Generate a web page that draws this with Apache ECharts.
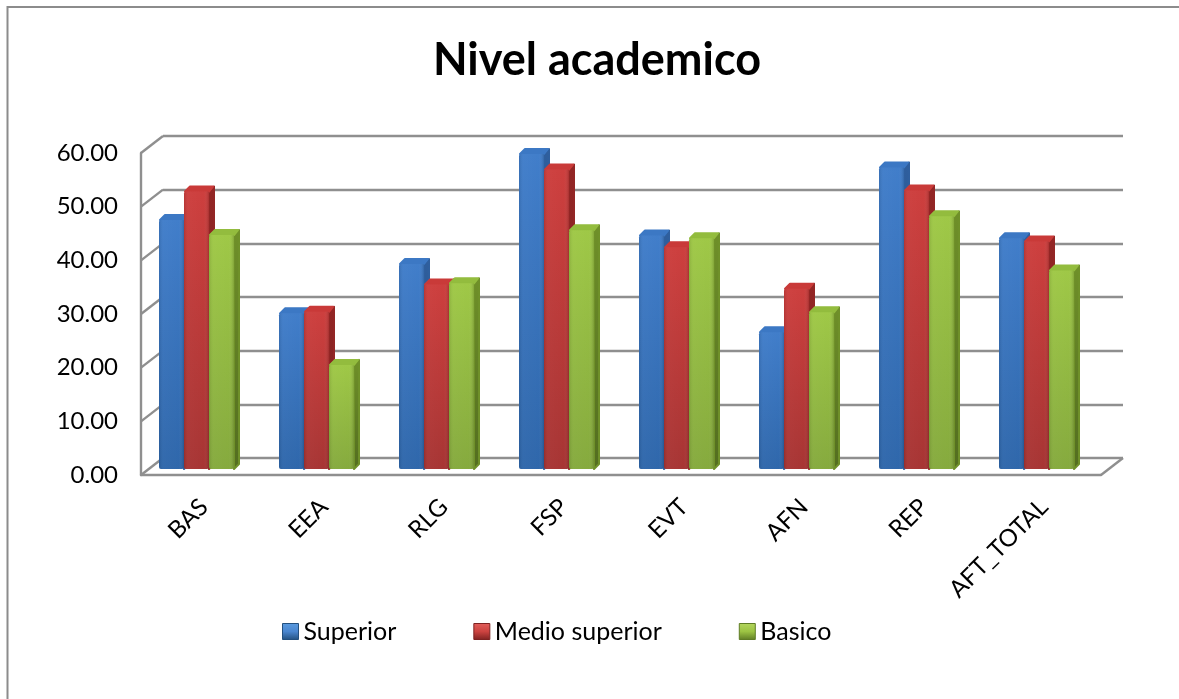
<!DOCTYPE html>
<html>
<head>
<meta charset="utf-8">
<style>html,body{margin:0;padding:0;background:#fff}#chart{width:1179px;height:699px}</style>
<script src="https://cdn.jsdelivr.net/npm/echarts@6/dist/echarts.min.js"></script>
</head>
<body>
<div id="chart"></div>
<script>
const categories = ['BAS', 'EEA', 'RLG', 'FSP', 'EVT', 'AFN', 'REP', 'AFT_TOTAL'];
const superior = [46.4, 29.0, 38.2, 58.7, 43.5, 25.5, 56.2, 43.0];
const medioSuperior = [51.7, 29.3, 34.4, 55.8, 41.3, 33.6, 51.9, 42.4];
const basico = [43.6, 19.4, 34.6, 44.5, 43.0, 29.2, 47.1, 37.0];
const wallTicks = [0, 10, 20, 30, 40, 50, 60];

const FONT = 'Lato, "Open Sans", sans-serif';
const LINE = '#8f8f8f';

// Pseudo-3D projection: the back plane sits up and to the right of the front plane.
const WALL_DX = 22, WALL_DY = -17;
const BAR_LIFT = 6, BAR_DX = 6, BAR_DY = -6;
const BAR_FRAC = 25 / 120, LEAD_FRAC = 18 / 120;
const LABEL_SHIFT = 3;

const vGrad = (a, b) => new echarts.graphic.LinearGradient(0, 0, 0, 1, [
  { offset: 0, color: a }, { offset: 1, color: b }
]);

const palettes = [
  { name: 'Superior', front: ['#3d7bc9', '#2b64a9'], top: '#3c78c4', side: ['#2f5f9e', '#234a7c'],
    key: ['#5b9be0', '#4a86cf', '#23507f'] },
  { name: 'Medio superior', front: ['#cc3b3a', '#a53130'], top: '#c93a39', side: ['#932625', '#752020'],
    key: ['#e2605c', '#cc4340', '#7e2221'] },
  { name: 'Basico', front: ['#9dc743', '#83a83a'], top: '#93bc3e', side: ['#6f9029', '#536d20'],
    key: ['#b4d65e', '#9cc343', '#5f7c25'] }
];

function barSeries(values, idx) {
  const p = palettes[idx];
  return {
    name: p.name,
    type: 'custom',
    coordinateSystem: 'cartesian2d',
    xAxisIndex: 0,
    yAxisIndex: 0,
    clip: false,
    z: 5 + idx,
    itemStyle: { color: vGrad(p.key[1], p.key[2]) },
    data: values.map((v, i) => [i, v]),
    encode: { x: 0, y: 1 },
    renderItem(params, api) {
      const cat = api.value(0);
      const base = api.coord([cat, 0]);
      const head = api.coord([cat, api.value(1)]);
      const band = api.size([1, 0])[0];
      const w = band * BAR_FRAC;
      const x0 = base[0] - band / 2 + band * LEAD_FRAC + idx * w;
      const x1 = x0 + w;
      const yb = base[1] - BAR_LIFT;
      const yt = head[1] - BAR_LIFT;
      return {
        type: 'group',
        children: [
          { type: 'polygon',
            shape: { points: [[x1, yt], [x1 + BAR_DX - 1, yt + BAR_DY + 1], [x1 + BAR_DX - 1, yb + BAR_DY + 1], [x1, yb]] },
            style: { fill: vGrad(p.side[0], p.side[1]), stroke: p.side[0], lineWidth: 2, lineJoin: 'round' } },
          { type: 'polygon',
            shape: { points: [[x0 + 1, yt], [x0 + BAR_DX, yt + BAR_DY + 1], [x1 + BAR_DX - 2, yt + BAR_DY + 1], [x1, yt]] },
            style: { fill: p.top, stroke: p.top, lineWidth: 2, lineJoin: 'round' } },
          { type: 'rect',
            shape: { x: x0, y: yt, width: w, height: yb - yt, r: [2, 1, 2, 2] },
            style: { fill: vGrad(p.front[0], p.front[1]) } },
          { type: 'rect',
            shape: { x: x0, y: yt, width: w, height: yb - yt, r: [2, 1, 2, 2] },
            style: { fill: new echarts.graphic.LinearGradient(0, 0, 1, 0, [
              { offset: 0, color: 'rgba(0,0,0,0.10)' },
              { offset: 0.18, color: 'rgba(255,255,255,0.04)' },
              { offset: 0.8, color: 'rgba(255,255,255,0.02)' },
              { offset: 1, color: 'rgba(0,0,0,0.16)' }
            ]) } }
        ]
      };
    }
  };
}

// Diagonal side-wall and floor edges joining the front plane to the back plane.
function wallSeries() {
  return {
    type: 'custom',
    coordinateSystem: 'cartesian2d',
    xAxisIndex: 0,
    yAxisIndex: 0,
    clip: false,
    silent: true,
    z: 1,
    data: wallTicks.map(v => [v]),
    encode: { y: 0 },
    renderItem(params, api) {
      const v = api.value(0);
      const band = api.size([1, 0])[0];
      const first = api.coord([0, v]);
      const left = first[0] - band / 2;
      const lines = [[left, first[1]]];
      if (v === 0) lines.push([left + band * categories.length, first[1]]);
      return {
        type: 'group',
        children: lines.map(pt => ({
          type: 'line',
          shape: { x1: pt[0], y1: pt[1], x2: pt[0] + WALL_DX, y2: pt[1] + WALL_DY },
          style: { stroke: LINE, lineWidth: 2.4 }
        }))
      };
    }
  };
}

const option = {
  backgroundColor: '#fff',
  animation: false,
  title: {
    text: 'Nivel academico',
    left: 597,
    top: 38,
    padding: 0,
    textAlign: 'center',
    textStyle: { fontFamily: FONT, fontWeight: 'bold', fontSize: 45, color: '#000' }
  },
  legend: {
    data: palettes.map(p => ({
      name: p.name,
      icon: 'rect',
      itemStyle: {
        color: new echarts.graphic.LinearGradient(0, 0, 0, 1, [
          { offset: 0, color: p.key[0] }, { offset: 0.5, color: p.key[1] }, { offset: 1, color: p.key[2] }
        ]),
        borderColor: p.key[2],
        borderWidth: 1
      }
    })),
    left: 282,
    top: 619,
    padding: 0,
    itemWidth: 16,
    itemHeight: 16,
    itemGap: 77,
    selectedMode: false,
    textStyle: { fontFamily: FONT, fontSize: 25, color: '#000' }
  },
  grid: [
    { left: 141, top: 153, width: 960, height: 322 },
    { left: 141 + WALL_DX, top: 153 + WALL_DY, width: 960, height: 322 },
    { left: 141 + LABEL_SHIFT, top: 153, width: 960, height: 322 }
  ],
  xAxis: [
    { type: 'category', gridIndex: 0, data: categories,
      axisLine: { lineStyle: { color: LINE, width: 2.4 } },
      axisTick: { show: false },
      axisLabel: { show: false } },
    { type: 'category', gridIndex: 1, data: categories, show: false },
    { type: 'category', gridIndex: 2, data: categories,
      axisLine: { show: false },
      axisTick: { show: false },
      axisLabel: { rotate: 45, margin: 28, interval: 0, fontFamily: FONT, fontSize: 24, color: '#000' } }
  ],
  yAxis: [
    { type: 'value', gridIndex: 0, min: 0, max: 60, interval: 10,
      axisLine: { show: true, lineStyle: { color: LINE, width: 2.4 } },
      axisTick: { show: false },
      splitLine: { show: false },
      axisLabel: { margin: 23, padding: [2, 0, 0, 0], fontFamily: FONT, fontSize: 24, color: '#000',
        formatter: v => v.toFixed(2) } },
    { type: 'value', gridIndex: 1, min: 0, max: 60, interval: 10,
      axisLine: { show: false }, axisTick: { show: false }, axisLabel: { show: false },
      splitLine: { show: true, lineStyle: { color: LINE, width: 2.4 } } },
    { type: 'value', gridIndex: 2, min: 0, max: 60, interval: 10, show: false }
  ],
  graphic: [
    { type: 'polyline', silent: true,
      shape: { points: [[7.5, 699], [7.5, 7], [1179, 7]] },
      style: { fill: 'none', stroke: '#8c8c8c', lineWidth: 2 } }
  ],
  series: [
    wallSeries(),
    barSeries(superior, 0),
    barSeries(medioSuperior, 1),
    barSeries(basico, 2)
  ]
};

echarts.init(document.getElementById('chart')).setOption(option);
</script>
</body>
</html>
